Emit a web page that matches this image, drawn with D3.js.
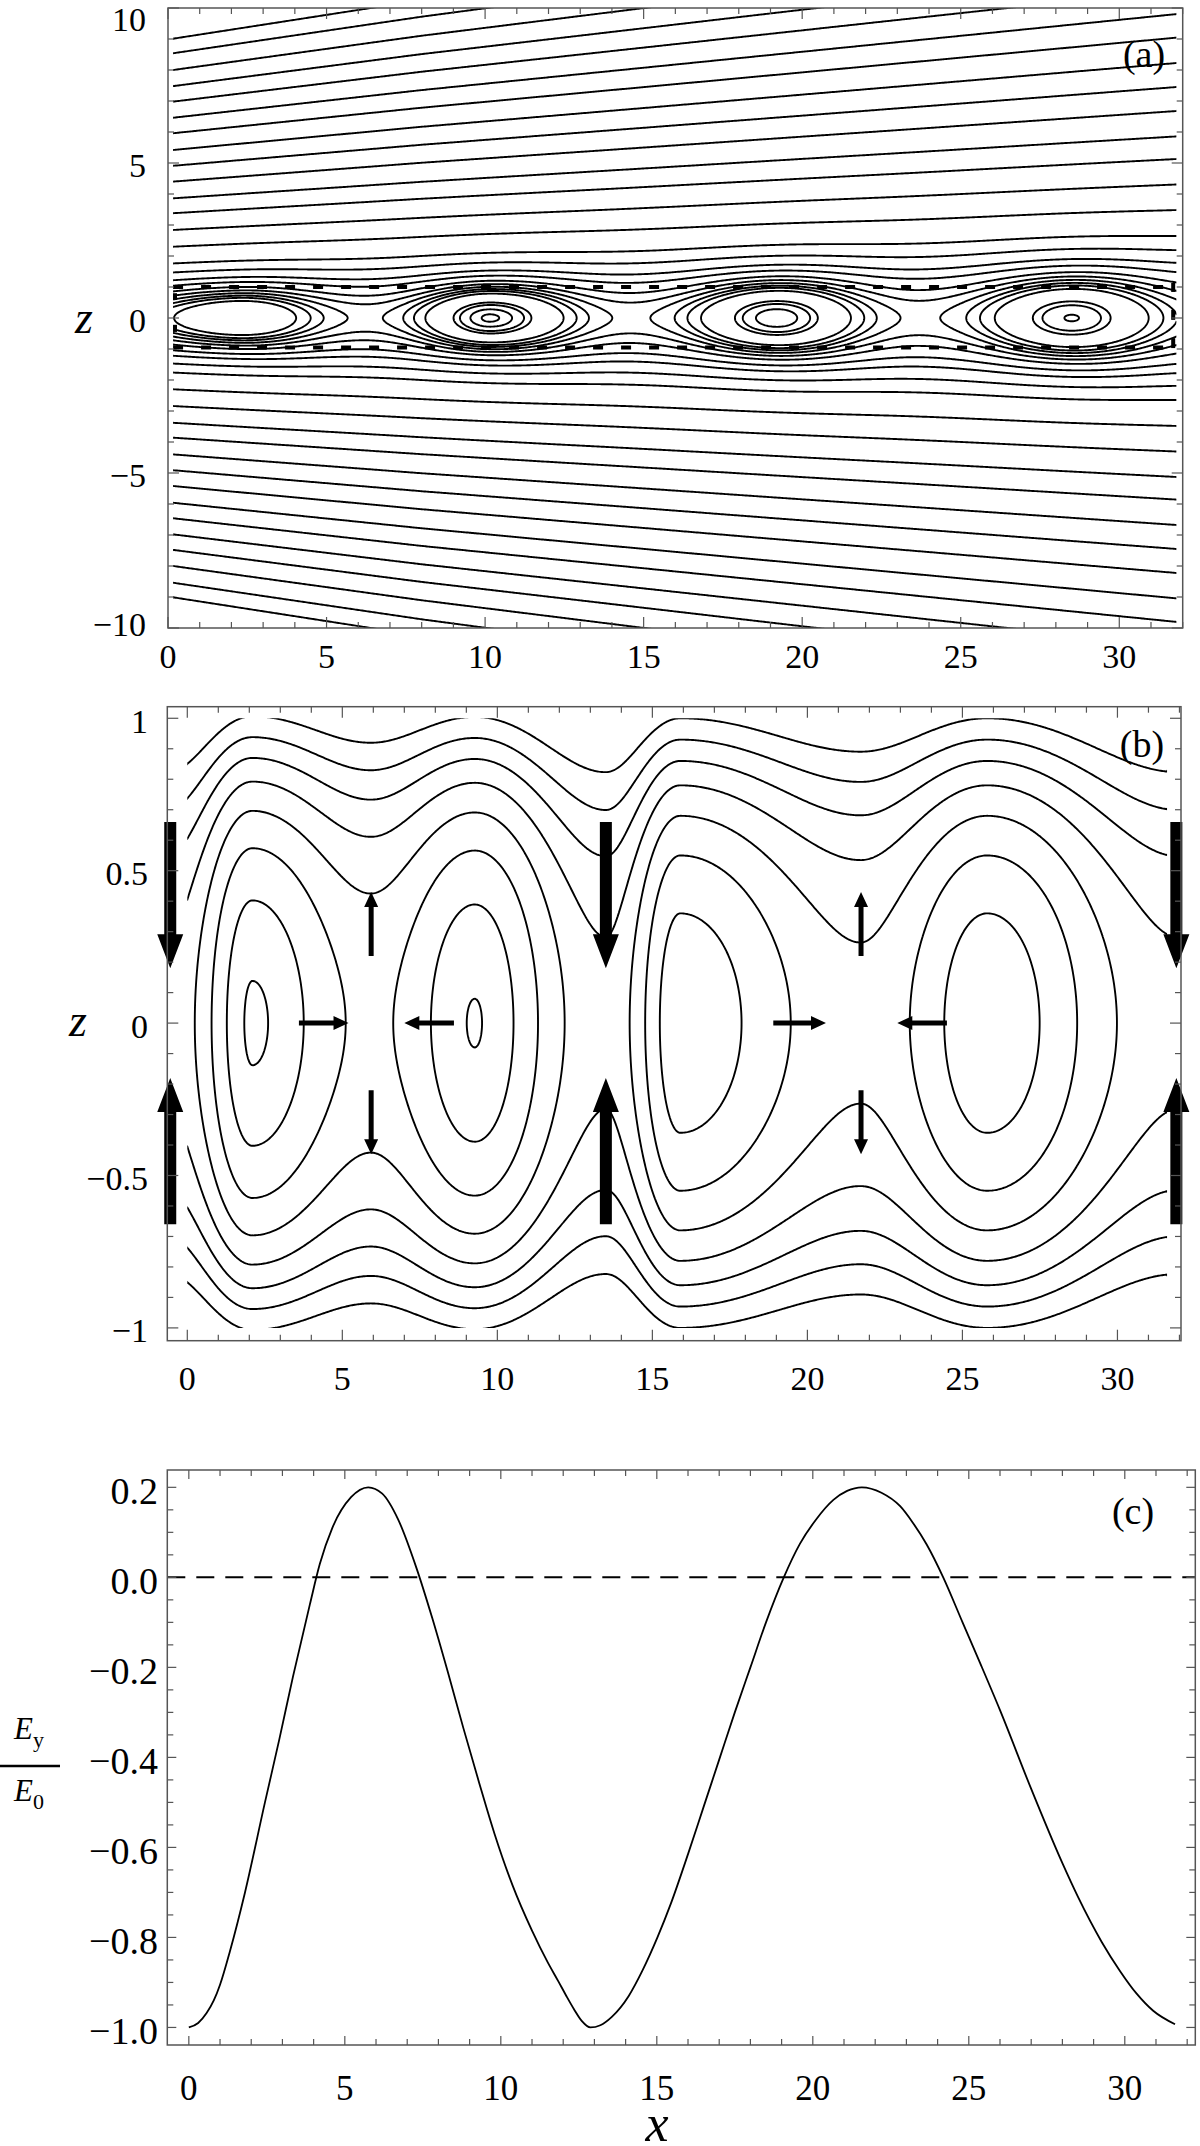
<!DOCTYPE html>
<html><head><meta charset="utf-8">
<script src="https://cdn.jsdelivr.net/npm/d3@7/dist/d3.min.js"></script>
<style>
html,body{margin:0;padding:0;background:#fff;}
svg text{font-family:"Liberation Serif","Times New Roman",Times,"DejaVu Serif",serif;fill:#000;}
</style></head>
<body>
<svg id="fig" width="1200" height="2146" xmlns="http://www.w3.org/2000/svg" font-family="Liberation Serif, Times New Roman, DejaVu Serif, serif"></svg>
<script>
// ================= DATA =================
// Panel (a): magnetic flux contours (wide view)
const aXTickLabels = [0, 5, 10, 15, 20, 25, 30];
const aZTickLabels = [-10, -5, 0, 5, 10];
// null points (X, O, X, O, ...) and their strength (+ at X-points, - at O-points)
const aNullX   = [-2.5, 2.3, 6.26, 10.15, 14.6, 19.2, 23.7, 28.5, 33.3];
const aNullG   = [0.93, -0.5, 0.93, -0.9, 0.93, -0.88, 0.93, -0.8, 0.93];
const aSpreadX = [0.16, 8, 31.8];
const aSpreadS = [0.514, 0.585, 0.78];
const aFarRefX = 0.16;
const aFarZ    = [1.76, 2.30, 2.84, 3.38, 3.86, 4.40, 4.91, 5.42, 5.96, 6.46, 6.98, 7.48, 8.0, 8.54, 9.01];
const aIsl1RefX = 2.3;
const aIsl1Z   = [0.55, 0.65, 0.72, 0.8, 0.89, 1.0, 1.16, 1.32, 1.56];
const aIsl2RefX = 10.15;
const aIsl2Z   = [0.12, 0.28, 0.42, 0.5];
const aDashZ   = [1.0, -0.95];
const aDataX   = [0.16, 31.8];
const aEdgeMarks = [[0.22, 0.58, 0.8], [0.22, -0.45, -0.22], [31.7, 0.84, 1.13], [31.7, -0.06, 0.26], [31.7, -0.97, -0.65]];

// Panel (b): zoom |z| <= 1
const bXTickLabels = [0, 5, 10, 15, 20, 25, 30];
const bZTickLabels = [-1, -0.5, 0, 0.5, 1];
const bNullX   = [-0.6, 2.1, 5.92, 9.27, 13.5, 15.9, 21.72, 25.8, 31.95];
const bNullG   = [2.5, -0.75, 1.0, -0.7, 2.5, -0.6, 1.5, -0.6, 2.5];
const bSpreadX = [0, 31.6];
const bSpreadS = [0.36, 0.36];
const bRefX1 = 15.9;
const bRefZ1 = [0.36, 0.55, 0.68, 0.78, 0.86, 0.93, 1.0];
const bRefX2 = 9.27;
const bRefZ2 = [0.08];
const bDataX = [0, 31.6];
// big inflow arrows [x, z tail, z head] and small arrows
const bBigArrows = [
  [-0.55, 0.66, 0.18], [-0.55, -0.66, -0.18],
  [13.5, 0.66, 0.18], [13.5, -0.66, -0.18],
  [31.9, 0.66, 0.18], [31.9, -0.66, -0.18]
];
const bSmallVArrows = [
  [5.93, 0.22, 0.43], [5.93, -0.22, -0.43],
  [21.73, 0.22, 0.43], [21.73, -0.22, -0.43]
];
const bSmallHArrows = [ // [z, x tail, x head]
  [0, 3.6, 5.2], [0, 8.6, 7.0], [0, 18.9, 20.6], [0, 24.5, 22.9]
];

// Panel (c): E_y / E_0 along x
const cXTickLabels = [0, 5, 10, 15, 20, 25, 30];
const cYTickLabels = [0.2, 0.0, -0.2, -0.4, -0.6, -0.8, -1.0];
const cX = [0, 0.3, 0.57, 0.8, 1.0, 1.32, 1.8, 2.44, 2.9, 3.34, 3.88, 4.2, 4.6, 5.2, 5.75,
  6.2, 6.7, 7.3, 7.8, 8.3, 8.8, 9.3, 9.8, 10.38, 11.0, 11.5, 11.84, 12.1, 12.35, 12.6, 12.87,
  13.19, 13.55, 14.1, 14.53, 15.02, 15.45, 16.0, 16.5, 17.0, 17.5, 18.0, 18.5, 19.07, 19.59,
  20.1, 20.66, 21.1, 21.57, 22.2, 22.8, 23.2, 23.65, 24.18, 24.8, 25.36, 26.0, 27.0, 28.0,
  28.5, 29.26, 29.85, 30.38, 30.91, 31.61];
const cEy = [-1.0, -0.99, -0.968, -0.94, -0.905, -0.83, -0.7, -0.5, -0.36, -0.22, -0.06, 0.03, 0.11, 0.178, 0.2,
  0.186, 0.13, 0.02, -0.09, -0.21, -0.335, -0.455, -0.57, -0.685, -0.785, -0.855, -0.897, -0.93, -0.96, -0.986, -1.0,
  -0.995, -0.977, -0.93, -0.875, -0.8, -0.725, -0.615, -0.51, -0.405, -0.3, -0.2, -0.1, 0.0, 0.075,
  0.128, 0.172, 0.192, 0.2, 0.188, 0.158, 0.122, 0.073, 0.0, -0.1, -0.19, -0.295, -0.47, -0.635,
  -0.71, -0.81, -0.875, -0.925, -0.963, -0.993];

// ================= HELPERS =================
const svg = d3.select("#fig");
const FONT = "Liberation Serif, Times New Roman, DejaVu Serif, serif";
const fmtMinus = s => String(s).replace("-", "\u2212");

// smooth (cosine-eased) interpolation through knot values
function easedScale(xs, vs) {
  return x => {
    if (x <= xs[0]) return vs[0];
    if (x >= xs[xs.length - 1]) return vs[vs.length - 1];
    const i = d3.bisectRight(xs, x) - 1;
    const t = (x - xs[i]) / (xs[i + 1] - xs[i]);
    return vs[i] + (vs[i + 1] - vs[i]) * (1 - Math.cos(Math.PI * t)) / 2;
  };
}

function makeField(nullX, nullG, sX, sS) {
  const gg = easedScale(nullX, nullG);
  const ss = d3.scaleLinear(sX, sS);
  const col = x => ({ e: gg(x), s: ss(x) });
  const val = (c, z) => Math.log(Math.max(1e-9, Math.cosh(z / c.s) + c.e)) + Math.LN2;
  return { col, val, at: (x, z) => val(col(x), z) };
}

function isolines(F, x0, x1, z0, z1, nx, nz, levels) {
  const dx = (x1 - x0) / (nx - 1), dz = (z1 - z0) / (nz - 1);
  const cols = d3.range(nx).map(i => F.col(x0 + i * dx));
  const v = new Float64Array(nx * nz);
  for (let j = 0; j < nz; j++) {
    const z = z0 + j * dz;
    for (let i = 0; i < nx; i++) v[j * nx + i] = F.val(cols[i], z);
  }
  const polys = d3.contours().size([nx, nz]).thresholds(levels)(v);
  const isB = p => p[0] === 0 || p[0] === nx || p[1] === 0 || p[1] === nz;
  const toData = p => [x0 + (p[0] - 0.5) * dx, z0 + (p[1] - 0.5) * dz];
  const out = [];
  for (const c of polys) for (const poly of c.coordinates) for (const ring of poly) {
    let P = ring.slice();
    if (P.length > 1 && P[0][0] === P[P.length - 1][0] && P[0][1] === P[P.length - 1][1]) P.pop();
    const m = P.length;
    if (m < 2) continue;
    let start = -1;
    for (let k = 0; k < m; k++) if (isB(P[k]) && isB(P[(k + 1) % m])) { start = k; break; }
    if (start < 0) { const r = P.map(toData); r.push(r[0]); out.push(r); continue; }
    let cur = [];
    for (let t = 0; t < m; t++) {
      const k = (start + 1 + t) % m;
      const a = P[k], b = P[(k + 1) % m];
      if (isB(a) && isB(b)) { if (cur.length > 1) out.push(cur.map(toData)); cur = []; }
      else { if (!cur.length) cur.push(a); cur.push(b); }
    }
    if (cur.length > 1) out.push(cur.map(toData));
  }
  return out;
}

function drawFrame(g, sx, sy, xr, yr, xMajor, xMinor, yMajor, yMinor, majLen, minLen) {
  const X0 = sx(xr[0]), X1 = sx(xr[1]), Y0 = sy(yr[0]), Y1 = sy(yr[1]);
  const col = "#555";
  const t = g.append("g").attr("stroke", col).attr("stroke-width", 1.2);
  xMinor.forEach(v => { const x = sx(v); const L = xMajor.includes(v) ? majLen : minLen;
    t.append("line").attr("x1", x).attr("x2", x).attr("y1", Y0).attr("y2", Y0 - L);
    t.append("line").attr("x1", x).attr("x2", x).attr("y1", Y1).attr("y2", Y1 + L); });
  yMinor.forEach(v => { const y = sy(v); const L = yMajor.some(m => Math.abs(m - v) < 1e-9) ? majLen : minLen;
    t.append("line").attr("x1", X0).attr("x2", X0 + L).attr("y1", y).attr("y2", y);
    t.append("line").attr("x1", X1).attr("x2", X1 - L).attr("y1", y).attr("y2", y); });
  g.append("rect").attr("x", X0).attr("y", Y1).attr("width", X1 - X0).attr("height", Y0 - Y1)
    .attr("fill", "none").attr("stroke", col).attr("stroke-width", 1.5);
}

function arrowPath(x1, y1, x2, y2, sw, hw, hl) {
  const dx = x2 - x1, dy = y2 - y1, L = Math.hypot(dx, dy);
  const ux = dx / L, uy = dy / L, nx = -uy, ny = ux;
  const bx = x2 - ux * hl, by = y2 - uy * hl;
  const p = [[x1 + nx * sw / 2, y1 + ny * sw / 2], [bx + nx * sw / 2, by + ny * sw / 2],
    [bx + nx * hw / 2, by + ny * hw / 2], [x2, y2], [bx - nx * hw / 2, by - ny * hw / 2],
    [bx - nx * sw / 2, by - ny * sw / 2], [x1 - nx * sw / 2, y1 - ny * sw / 2]];
  return "M" + p.map(q => q.join(",")).join("L") + "Z";
}

const lineGen = (sx, sy) => d3.line().x(p => sx(p[0])).y(p => sy(p[1]));
const txt = (g) => g.append("text").attr("font-family", FONT);

// ================= PANEL (a) =================
{
  const sx = d3.scaleLinear([0, 32], [168, 1182.7]);
  const sz = d3.scaleLinear([-10, 10], [628, 8]);
  const g = svg.append("g");
  const F = makeField(aNullX, aNullG, aSpreadX, aSpreadS);
  const levels = aFarZ.map(z => F.at(aFarRefX, z))
    .concat(aIsl1Z.map(z => F.at(aIsl1RefX, z)))
    .concat(aIsl2Z.map(z => F.at(aIsl2RefX, z)));
  const lines = isolines(F, aDataX[0], aDataX[1], -10.4, 10.4, 760, 833, levels);
  svg.append("clipPath").attr("id", "clipA").append("rect")
    .attr("x", sx(aDataX[0])).attr("y", sz(10)).attr("width", sx(aDataX[1]) - sx(aDataX[0])).attr("height", sz(-10) - sz(10));
  g.append("g").attr("clip-path", "url(#clipA)").selectAll("path").data(lines).join("path")
    .attr("d", lineGen(sx, sz)).attr("fill", "none").attr("stroke", "#000").attr("stroke-width", 1.9);
  g.append("g").selectAll("line").data(aDashZ).join("line")
    .attr("x1", sx(aDataX[0])).attr("x2", sx(aDataX[1])).attr("y1", d => sz(d)).attr("y2", d => sz(d))
    .attr("stroke", "#000").attr("stroke-width", 4).attr("stroke-dasharray", "10,18");
  g.append("g").selectAll("line").data(aEdgeMarks).join("line")
    .attr("x1", d => sx(d[0])).attr("x2", d => sx(d[0])).attr("y1", d => sz(d[1])).attr("y2", d => sz(d[2]))
    .attr("stroke", "#000").attr("stroke-width", 4);
  drawFrame(g, sx, sz, [0, 32], [-10, 10], aXTickLabels, d3.range(0, 33), aZTickLabels, d3.range(-10, 11), 11, 6);
  aXTickLabels.forEach(d => txt(g).attr("x", sx(d)).attr("y", 668).attr("text-anchor", "middle").attr("font-size", 34).text(d));
  aZTickLabels.forEach(d => txt(g).attr("x", 146).attr("y", Math.min(Math.max(sz(d) + 2, 19), 624))
    .attr("text-anchor", "end").attr("dominant-baseline", "central").attr("font-size", 34).text(fmtMinus(d)));
  txt(g).attr("x", 84).attr("y", 333).attr("text-anchor", "middle").attr("font-size", 46).attr("font-style", "italic").text("z");
  txt(g).attr("x", 1144).attr("y", 67).attr("text-anchor", "middle").attr("font-size", 38).text("(a)");
}

// ================= PANEL (b) =================
{
  const sx = d3.scaleLinear([-0.645, 32.05], [167.3, 1181]);
  const sz = d3.scaleLinear([-1.042, 1.038], [1340.7, 706.7]);
  const g = svg.append("g");
  const F = makeField(bNullX, bNullG, bSpreadX, bSpreadS);
  const levels = bRefZ1.map(z => F.at(bRefX1, z)).concat(bRefZ2.map(z => F.at(bRefX2, z)));
  const lines = isolines(F, bDataX[0], bDataX[1], -1.02, 1.02, 791, 409, levels);
  svg.append("clipPath").attr("id", "clipB").append("rect")
    .attr("x", sx(bDataX[0])).attr("y", sz(1)).attr("width", sx(bDataX[1]) - sx(bDataX[0])).attr("height", sz(-1) - sz(1));
  g.append("g").attr("clip-path", "url(#clipB)").selectAll("path").data(lines).join("path")
    .attr("d", lineGen(sx, sz)).attr("fill", "none").attr("stroke", "#000").attr("stroke-width", 1.9);
  const ag = g.append("g").attr("fill", "#000");
  bBigArrows.forEach(a => ag.append("path").attr("d", arrowPath(sx(a[0]), sz(a[1]), sx(a[0]), sz(a[2]), 12, 26, 34)));
  bSmallVArrows.forEach(a => ag.append("path").attr("d", arrowPath(sx(a[0]), sz(a[1]), sx(a[0]), sz(a[2]), 5, 14, 15)));
  bSmallHArrows.forEach(a => ag.append("path").attr("d", arrowPath(sx(a[1]), sz(a[0]), sx(a[2]), sz(a[0]), 5, 14, 15)));
  const yMinor = d3.range(-10, 11).map(k => k / 10);
  drawFrame(g, sx, sz, [-0.645, 32.05], [-1.042, 1.038], bXTickLabels, d3.range(0, 33), bZTickLabels, yMinor, 11, 6);
  bXTickLabels.forEach(d => txt(g).attr("x", sx(d)).attr("y", 1390).attr("text-anchor", "middle").attr("font-size", 34).text(d));
  bZTickLabels.forEach(d => txt(g).attr("x", 148).attr("y", sz(d) + 3)
    .attr("text-anchor", "end").attr("dominant-baseline", "central").attr("font-size", 34).text(fmtMinus(d)));
  txt(g).attr("x", 78).attr("y", 1036).attr("text-anchor", "middle").attr("font-size", 46).attr("font-style", "italic").text("z");
  txt(g).attr("x", 1142).attr("y", 757).attr("text-anchor", "middle").attr("font-size", 38).text("(b)");
}

// ================= PANEL (c) =================
{
  const sx = d3.scaleLinear([-0.69, 32.26], [167.3, 1195.3]);
  const sy = d3.scaleLinear([-1.039, 0.2385], [2045, 1470]);
  const g = svg.append("g");
  g.append("line").attr("x1", sx(-0.69)).attr("x2", sx(32.26)).attr("y1", sy(0)).attr("y2", sy(0))
    .attr("stroke", "#000").attr("stroke-width", 2).attr("stroke-dasharray", "18,11");
  const pts = cX.map((x, i) => [x, cEy[i]]);
  g.append("path").attr("d", d3.line().x(p => sx(p[0])).y(p => sy(p[1])).curve(d3.curveMonotoneX)(pts))
    .attr("fill", "none").attr("stroke", "#000").attr("stroke-width", 1.8);
  const yMinor = d3.range(-20, 5).map(k => k / 20);
  drawFrame(g, sx, sy, [-0.69, 32.26], [-1.039, 0.2385], cXTickLabels, d3.range(0, 33), cYTickLabels, yMinor, 9, 6);
  cXTickLabels.forEach(d => txt(g).attr("x", sx(d)).attr("y", 2100).attr("text-anchor", "middle").attr("font-size", 35).text(d));
  cYTickLabels.forEach(d => txt(g).attr("x", 158).attr("y", sy(d) + 4)
    .attr("text-anchor", "end").attr("dominant-baseline", "central").attr("font-size", 38).text(fmtMinus(d.toFixed(1))));
  txt(g).attr("x", 657).attr("y", 2141).attr("text-anchor", "middle").attr("font-size", 52).attr("font-style", "italic").text("x");
  txt(g).attr("x", 1133).attr("y", 1524).attr("text-anchor", "middle").attr("font-size", 38).text("(c)");
  // E_y / E_0 label
  const t1 = txt(g).attr("x", 14).attr("y", 1739).attr("font-size", 31);
  t1.append("tspan").attr("font-style", "italic").text("E");
  t1.append("tspan").attr("font-size", 22).attr("dy", 8).text("y");
  g.append("line").attr("x1", 0).attr("x2", 60).attr("y1", 1766).attr("y2", 1766).attr("stroke", "#000").attr("stroke-width", 2.5);
  const t2 = txt(g).attr("x", 14).attr("y", 1801).attr("font-size", 31);
  t2.append("tspan").attr("font-style", "italic").text("E");
  t2.append("tspan").attr("font-size", 22).attr("dy", 8).text("0");
}
</script>
</body></html>
